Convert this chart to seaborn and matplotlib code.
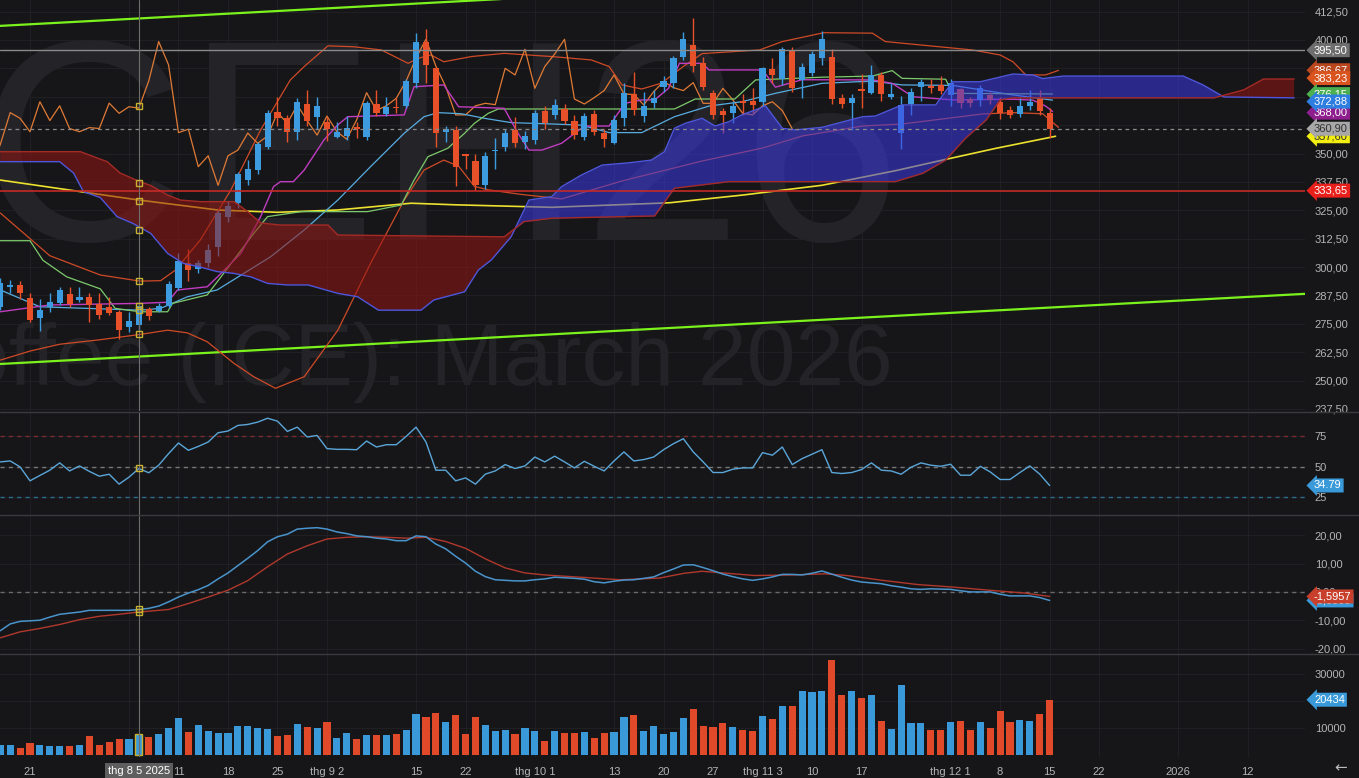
import numpy as np
import matplotlib
matplotlib.use("Agg")
import matplotlib.pyplot as plt
import matplotlib.transforms as mtransforms
from matplotlib.lines import Line2D
import seaborn as sns

# ---------------- data (bar index 0 = 21 Jul 2025) ----------------
first_index = -3
opens = [282.5, 291.5, 292, 286.5, 277.5, 282.5, 284, 288, 285.5, 287,
         283.7, 282.5, 280.3, 273.5, 274.4, 281.4, 280.8, 282.8, 290.6, 301.6,
         299, 301.8, 309, 322, 328, 338.3, 342.7, 353, 368.4, 365.6,
         359.6, 371.8, 366, 364, 357.4, 357.7, 361.5, 357.3, 371.7, 367.4,
         370.5, 371, 381, 399, 387.5, 359.6, 360.4, 349.5, 346.7, 336,
         351, 353, 360.4, 355.2, 356, 368.7, 367, 369.5, 364.5, 357.4,
         367.4, 359.2, 354.8, 365.5, 376, 366.5, 372.4, 379.2, 381, 392.7,
         397.8, 390, 376.5, 368.5, 367.8, 373.3, 373.3, 372.8, 387, 382.7,
         395.6, 382.4, 385.3, 392, 392.4, 374.6, 372.4, 378, 376.5, 384.6,
         375, 359.2, 371.8, 379.4, 379.5, 380.2, 375.8, 378.3, 373.9, 373.6,
         375.8, 372.8, 369.2, 367.4, 370.9, 373.9, 367.7]
closes = [293, 292, 288.5, 276.5, 281, 284.7, 290, 283.7, 287, 283.3,
          279, 279.7, 272.2, 276.4, 282.8, 278.5, 282.8, 292.5, 302.8, 298.7,
          301.6, 307.5, 324, 327, 341, 343, 354, 368, 365.5, 359.6,
          372.8, 364.5, 371, 361, 359.6, 361.4, 361, 372.2, 367.7, 370.6,
          370, 382, 399.3, 389, 359.2, 360.7, 344.2, 349, 336, 349,
          351.5, 359, 354.5, 357.7, 368, 363.3, 371.4, 364.5, 358.1, 366.5,
          359.6, 356.3, 364.8, 376.8, 369, 371, 374.3, 382, 392, 400.3,
          388.5, 379.4, 367, 367, 371, 372.1, 371.5, 387.5, 384.6, 395.9,
          378.7, 388.3, 393.8, 400.3, 374, 371.8, 374.6, 377.7, 384.6, 376.2,
          376, 371.4, 377.2, 381.7, 379, 377.7, 381.2, 372.1, 372.1, 378.7,
          373.6, 367.7, 367, 371, 372.8, 368.9, 360.9]
highs = [295, 294.3, 294, 288.7, 286, 288.5, 291, 291, 291.2, 288.5,
         288.5, 287, 281, 280, 284, 282.5, 284, 294, 306, 308,
         303, 310, 325, 329, 342, 347, 355, 369, 375, 367,
         374.5, 378, 375, 366, 364, 366.5, 364, 373, 378, 375,
         374.5, 383, 403, 405, 388, 362, 362, 350, 350, 350.5,
         357, 361, 366, 360, 369, 371, 374, 372, 367, 368,
         369, 361, 367, 381, 386, 377, 378, 384, 393, 403.6,
         409.5, 392.5, 378, 370, 373, 376, 379, 388, 392, 397,
         397, 390, 395, 404, 396, 376, 376, 385, 389, 386,
         381, 375.5, 379, 383, 383, 384, 383, 379, 375, 380,
         377, 375, 371, 375, 378, 378, 370]
lows = [281, 288.5, 286, 275.6, 272, 280, 283.5, 282.5, 284.7, 276,
        277, 279, 268.5, 271.5, 272, 276.5, 280, 282, 290, 294,
        297.5, 300, 305, 320, 326, 336, 341, 352, 362, 355,
        356, 362, 361, 355.5, 357, 356, 357, 356, 366.5, 366.5,
        368, 370, 379, 381, 353, 355, 335.6, 343, 334, 334.5,
        343, 351, 353, 352, 354, 361, 365, 363, 356.5, 356,
        358, 353, 354, 362, 367, 364, 370, 377, 379, 391,
        386, 378, 365, 358.9, 363.5, 367, 368, 371, 381, 380,
        377, 374.5, 384, 389, 372, 370, 360.5, 370, 376, 373,
        374, 352, 367, 373, 376.5, 376, 371, 370, 370.5, 371,
        372, 365, 365.5, 366, 369, 367, 357]
volumes = [3800, 3900, 2850, 4650, 4000, 3400, 3400, 3400, 4000, 7100,
           4000, 4800, 5900, 5900, 7800, 6600, 7800, 10100, 13750, 8550,
           11100, 9050, 8400, 8100, 10700, 10700, 10100, 9650, 7100, 7450,
           11450, 10500, 9900, 12300, 6250, 8400, 5900, 7450, 7450, 7450,
           7800, 9500, 15350, 14150, 15700, 12100, 14750, 7700, 14150, 11100,
           8950, 9500, 7800, 10100, 8950, 5250, 8950, 8300, 8100, 8700,
           6250, 8300, 8700, 14150, 15000, 8950, 10850, 7800, 8700, 13900,
           17150, 10850, 10500, 11950, 10500, 9500, 8950, 14500, 13400, 18000,
           18000, 23800, 23200, 23450, 35100, 22000, 23800, 21000, 22000, 12550,
           9650, 25650, 11800, 11800, 9300, 9300, 12100, 12550, 9500, 12100,
           9900, 16300, 12300, 13050, 12800, 15250, 20434]
rsi = [54.1, 54.9, 50, 38.6, 43, 47.3, 53.3, 46.7, 50.8, 46.3,
       42.4, 44.0, 35.9, 41.6, 48.7, 45.2, 51.4, 60.9, 69.6, 63.6,
       66.8, 70.4, 78, 79.4, 84, 84.8, 86.7, 89.9, 87.5, 79.1,
       82.6, 74.5, 75.8, 65, 64.4, 64.4, 64.1, 71.2, 66.3, 68.2,
       68.2, 75, 82.6, 70.4, 47.3, 47.3, 38.6, 41, 35.9, 44.1,
       46.7, 51.9, 48.7, 50.8, 58.1, 54.1, 58.8, 54.1, 49.2, 54.6,
       50.5, 46.7, 54.9, 62.3, 54.9, 56, 58.1, 64.1, 69, 73.1,
       62.3, 54.1, 45.4, 45.4, 48.1, 49.2, 49.2, 61.7, 59.6, 66.3,
       51.9, 56.8, 60.4, 64.1, 45.4, 44.6, 45.4, 47.8, 53.3, 47.3,
       46.7, 44.0, 49.7, 53.3, 51.4, 50.5, 52.2, 43.2, 43.2, 50.5,
       45.9, 39.7, 39.7, 45.4, 50.8, 44.1, 34.79]
macd = [-13.7, -11.3, -10.4, -10.2, -10, -8.9, -7.9, -7.5, -7.1, -6.5,
        -6.5, -6.5, -6.5, -6.5, -6.2, -5.8, -5, -3.5, -1.8, -0.4,
        0.8, 2.3, 4.6, 6.7, 9.3, 11.9, 14.6, 17.7, 19.5, 20.4,
        22.2, 22.5, 22.7, 22.2, 21.2, 20.6, 19.8, 19.5, 19, 18.7,
        18.1, 18.1, 19.8, 19.5, 16.9, 15.2, 12.6, 10.2, 7.3, 5.4,
        4.3, 4.1, 3.9, 3.9, 4.3, 4.6, 5.2, 5.0, 4.8, 4.5,
        3.6, 3.2, 3.8, 4.2, 4.3, 4.8, 5.3, 6.8, 8.1, 9.5,
        9.6, 8.6, 7.5, 6.3, 5.4, 4.6, 4.1, 4.6, 5.3, 6.2,
        6.2, 6.0, 6.6, 7.4, 6.3, 5.2, 4.2, 3.5, 3.2, 2.9,
        2.2, 1.7, 1.1, 0.9, 1.1, 1.0, 0.9, 0.4, 0.0, 0.0,
        0.0, -0.8, -1.4, -1.4, -1.4, -2.0, -3.0]
signal_x = [-3, -1, 1, 3, 5, 7, 9, 11, 13, 14, 16, 18, 20, 22, 24, 26, 28, 30, 32, 34,
            36, 38, 40, 42, 44, 46, 48, 50, 52, 55.6, 59.6, 63.6, 66.1, 67.9, 70.4,
            73.2, 76.9, 80.3, 82.5, 86.1, 89.7, 93.3, 96.9, 100.5, 103]
signal_v = [-16.2, -14.1, -12.9, -11.5, -9.8, -8.6, -7.9, -7.1, -6.5, -6.2, -4.1, -1.8,
            0.6, 4, 8.9, 13.4, 16.3, 18.7, 19.3, 19.5, 19.3, 19.0, 19.3, 17.8, 15.4,
            11.7, 8.5, 6.7, 6.0, 5.2, 4.3, 4.9, 6.6, 7.3, 6.6, 5.8, 6.0, 6.4, 5.8,
            4.1, 2.6, 1.7, 0.6, -0.4, -1.6]

# indicator lines: (bar index, price)
kijun_x = [-3, 0, 1.3, 3.7, 7.1, 8.6, 11.1, 13.9, 14.4, 17.9, 19.3, 22.6, 24, 27.4, 34.1,
           37.5, 38.8, 40.2, 42.2, 43.9, 44.9, 46.3, 47.3, 65.1, 67.2, 71.2, 73.3, 80,
           85.1, 87.1, 88.1, 92.5, 93.2, 103.3]
kijun_y = [311.6, 311.6, 303, 295.7, 290.4, 281.8, 280.3, 280.3, 284, 287.7, 295.7, 314.8,
           322.2, 324.4, 324.4, 327.3, 338.3, 348.6, 352.3, 358.9, 363.3, 367.7, 369.6,
           369.6, 374, 374, 382.4, 383.6, 384.1, 386.5, 383.1, 382.7, 376.5, 376.2]
tenkan_x = [-3, 2, 11.1, 13.9, 14.9, 17.9, 19.3, 21.3, 23.3, 24.6, 25.3, 26.6, 27.7, 29.7,
            31.1, 32.1, 37.8, 38.8, 41.8, 43.3, 47.9, 49.3, 50.4, 51.7, 53.7, 56, 58.5,
            60.1, 61.8, 63.1, 64.5, 65.6, 67.9, 68.6, 74, 75.3, 78, 85.1, 87.1, 89.2,
            93.2, 99.3, 101.3, 102.6, 103.3]
tenkan_y = [280.3, 283.3, 284, 284.5, 289.9, 291.3, 297.2, 306, 322.2, 335.4, 337.6, 337.6,
            342.7, 356, 362.6, 366.2, 367, 379.4, 380.2, 370.6, 369.9, 358.9, 351.5, 351.5,
            354.5, 362.1, 362.1, 372.1, 373.6, 373.6, 378.7, 389.7, 389.7, 386.8, 386.8,
            379.2, 382.5, 382.4, 380.9, 375, 373.6, 373.9, 373.5, 370.9, 368.5]
mid_x = [-3, 1, 11.1, 13.2, 15.9, 18.9, 24.3, 27.7, 31.1, 34.4, 37.8, 39.8, 41.2, 43.6,
         45.9, 48.6, 52.7, 55.7, 58.5, 61.8, 65.1, 68.6, 71.9, 75.3, 80, 85.1, 88.1, 93.2,
         99.3, 103.3]
mid_y = [289.9, 282.5, 281, 281.8, 286.9, 289.9, 304.5, 316.3, 329.5, 344.2, 358.9, 366.2,
         368, 367.5, 365.5, 363.6, 363, 362.5, 359.2, 359.2, 366.2, 370.9, 372.8, 376.5,
         380.9, 381.9, 380.2, 380, 375.8, 373.5]
bb_up_x = [-3, 2, 7.1, 11.1, 13.2, 14.7, 17.2, 20.3, 23.3, 26.3, 27.7, 30.1, 32.7, 35.5,
           38.2, 39.2, 40.5, 41.8, 44.6, 47.9, 52.7, 56.7, 58.5, 59.8, 61.8, 63.8, 65.9,
           67.9, 73.7, 76, 80.2, 85.1, 86.4, 95.2, 98, 99.3, 100.6, 102.6, 103.9]
bb_up_y = [323.8, 305, 296.5, 293.8, 294, 298.7, 311.9, 334, 360.4, 382.4, 388.3, 397.4,
           397, 395.6, 389.7, 391.9, 393.4, 390.4, 392.7, 394.1, 392.7, 391.2, 388.3,
           380.2, 378.4, 381, 388, 394, 395.6, 399.3, 403.2, 403, 399.3, 395.6, 393.4,
           390.4, 384.6, 384.6, 386.6]
bb_lo_x = [-3, 0, 3, 7.1, 11.1, 13.9, 15.9, 17.9, 20.6, 22.6, 24.8, 27.7, 31.1, 34.4, 37.8,
           39.8, 41.8, 43.3, 44.9, 46.3, 49.6, 53.7, 59.8, 67.9, 74, 78, 84.1, 88.1, 96.2,
           99.3, 102.3, 103.9]
bb_lo_y = [259, 263, 266, 268, 270.3, 272.2, 271, 267.1, 257.6, 251.7, 246.6, 251.7, 272.2,
           301.6, 329.5, 342.7, 347.1, 344.4, 335.5, 334, 332, 330, 337.9, 346.7, 352.4,
           357.7, 362.1, 363, 367.4, 368, 367.5, 361.5]
ma_x = [-3, 11, 19, 25, 31, 38.5, 43, 52.7, 64.6, 72, 80, 87.4, 92.5, 97.6, 102.6, 103.6]
ma_y = [338.3, 329.5, 325.1, 324.1, 325.1, 328.1, 327.4, 326.3, 328.3, 331.7, 336, 342.4,
        347.4, 352.3, 356.7, 357.6]
span_a_x = [-3, 3, 4.4, 5.4, 7.1, 8.8, 10.4, 12.2, 13.9, 15.5, 17.2, 18.9, 20.6, 22.3, 24,
            26, 28.1, 31.1, 33.1, 35.2, 39.5, 40.8, 43.9, 45.3, 46.6, 48.6, 50.4, 52.7,
            53.7, 55.7, 57.8, 60.5, 62.8, 64.1, 65.1, 66.2, 67.9, 69.2, 70.6, 71.9, 73.7,
            74.3, 76, 77.3, 80, 84.1, 85.4, 88.1, 91.5, 93.2, 96, 99.3, 101.3, 102.3,
            104.4, 116.5, 118.5, 120.6, 127.7]
span_a_y = [346.4, 346.4, 341.4, 333.2, 330.6, 322.2, 319.2, 314.8, 306, 301.6, 300, 298,
            297.2, 295.7, 292.8, 292.1, 292.1, 288.4, 286.9, 281, 281, 285.5, 289.1, 298.7,
            303.1, 313.3, 329.5, 331, 335.4, 340.5, 344.9, 345.9, 347.1, 350.8, 361.1,
            363.3, 365.5, 362.1, 364, 367, 369.9, 371, 361.1, 360.4, 361.5, 366.2, 366.5,
            371.4, 371.4, 381.6, 381.6, 385, 384.6, 383, 384.1, 384.1, 380.2, 374.9, 374.5]
span_b_x = [-3, 5.1, 6.8, 7.8, 9.1, 11.1, 12.2, 13.9, 15.2, 17.2, 20.6, 22, 23.3, 25.3, 30.1,
            31.1, 47.9, 49.9, 52.7, 63.1, 65.1, 70.6, 87.4, 90.2, 92.5, 94.5, 96.6, 98,
            99.3, 119.6, 122.6, 124.6, 127.7]
span_b_y = [350.8, 350.8, 348, 346.4, 341.4, 337.6, 335.9, 331.7, 329.5, 328.8, 328.8, 324.4,
            319.4, 318.5, 318.5, 314.1, 313.3, 320, 321.5, 322.5, 334.7, 337.6, 337.6, 341.3,
            347.1, 356.7, 364.8, 373.6, 374.5, 374.5, 378, 382.8, 382.8]
chikou_shift = 26
trend_x = [-3.03, 128.8]
trend_upper = [406.2, 437.0]
trend_lower = [257.3, 288.2]
level_gray = 395.5
level_red = 333.65
last_price = 360.9
cross_index = 11
cross_prices = [370.9, 336.9, 329.2, 316.3, 293.9, 282.8, 281.0, 270.3]

price_ticks = [237.5, 250, 262.5, 275, 287.5, 300, 312.5, 325, 337.5, 350, 362.5,
               375, 387.5, 400, 412.5]
rsi_ticks = [25, 50, 75]
macd_ticks = [-20, -10, 0, 10, 20]
vol_ticks = [10000, 20000, 30000]
grid_idx = [0, 10, 15, 20, 25, 30, 39, 44, 51, 59, 64, 69, 74, 79, 84, 93, 98, 103, 108, 116, 123]
tick_idx = [0, 15, 20, 25, 30, 39, 44, 51, 59, 64, 69, 74, 79, 84, 93, 98, 103, 108, 116, 123]
tick_lbl = ["21", "11", "18", "25", "thg 9 2", "15", "22", "thg 10 1", "13", "20",
            "27", "thg 11 3", "10", "17", "thg 12 1", "8", "15", "22", "2026", "12"]

# ---------------- style ----------------
BG = "#161619"
TXT = "#b4b4b4"
UP = "#3d9be0"
DN = "#e8502a"
sns.set_theme(style="dark", rc={
    "figure.facecolor": BG, "axes.facecolor": BG, "axes.edgecolor": BG,
    "grid.color": "#232328", "text.color": TXT,
    "xtick.color": TXT, "ytick.color": TXT})
plt.rcParams["font.family"] = ["Liberation Sans", "DejaVu Sans"]

W, H = 1359, 778
PLOT_W = 1305
fig = plt.figure(figsize=(W / 100, H / 100), dpi=100)
fig.patch.set_facecolor(BG)


def panel(top, bottom):
    ax = fig.add_axes([0, 1 - bottom / H, PLOT_W / W, (bottom - top) / H])
    ax.set_facecolor(BG)
    for s in ax.spines.values():
        s.set_visible(False)
    ax.set_xlim(-3.03, 128.8)
    ax.yaxis.tick_right()
    ax.tick_params(axis="both", length=0, labelsize=8, colors=TXT)
    ax.tick_params(axis="y", pad=7)
    ax.set_xticks(grid_idx)
    ax.grid(True, color="#222227", lw=0.6)
    ax.set_axisbelow(True)
    return ax


ax_p = panel(0, 411)
ax_r = panel(412, 514.5)
ax_m = panel(515.5, 653.5)
ax_v = panel(654.5, 757)
for a in (ax_p, ax_r, ax_m):
    a.tick_params(axis="x", labelbottom=False)

idx = np.arange(first_index, first_index + len(opens))
o = np.array(opens); c = np.array(closes); hi = np.array(highs); lo = np.array(lows)
cols = np.where(c >= o, UP, DN)

# ---------------- price panel ----------------
ax_p.set_ylim(236.6, 417.6)
ax_p.set_yticks(price_ticks)
ax_p.set_yticklabels([f"{v:.2f}".replace(".", ",") for v in price_ticks])

ax_p.text(88.1, 311.9, "KCEH26", fontsize=206, color="#242428", ha="right",
          va="baseline", zorder=0.5, clip_on=True)
ax_p.text(87.2, 248.0, "Coffee (ICE): March 2026", fontsize=63, color="#242428",
          ha="right", va="baseline", zorder=0.5, clip_on=True)

ax_p.plot(trend_x, trend_upper, color="#7cf21c", lw=1.6, zorder=2)
ax_p.plot(trend_x, trend_lower, color="#7cf21c", lw=1.6, zorder=2)

def line(ax, x, y, color, lw=0.9, z=3):
    sns.lineplot(x=x, y=y, ax=ax, color=color, lw=lw, zorder=z, estimator=None, sort=False)

line(ax_p, ma_x, ma_y, "#ece12e", 1.2)
line(ax_p, bb_up_x, bb_up_y, "#cf4a26", 0.9)
line(ax_p, bb_lo_x, bb_lo_y, "#cf4a26", 0.9)
line(ax_p, list(idx - chikou_shift), closes, "#e07a35", 0.9)
line(ax_p, mid_x, mid_y, "#58ace0", 0.9)
line(ax_p, kijun_x, kijun_y, "#7dca6c", 0.9)
line(ax_p, tenkan_x, tenkan_y, "#c03cc0", 1.0)

ax_p.vlines(idx, lo, hi, colors=cols, lw=1, zorder=4)
body = c - o
body = np.where(np.abs(body) < 0.7, 0.7, body)
ax_p.bar(idx, body, bottom=np.where(np.abs(c - o) < 0.7, (o + c) / 2 - 0.35, o),
         width=0.62, color=cols, zorder=5, linewidth=0)

xx = np.linspace(span_a_x[0], span_a_x[-1], 3000)
sa = np.interp(xx, span_a_x, span_a_y)
sb = np.interp(xx, span_b_x, span_b_y)
ax_p.fill_between(xx, sa, sb, where=sb >= sa, interpolate=True, color="#951512",
                  alpha=0.55, lw=0, zorder=6)
ax_p.fill_between(xx, sa, sb, where=sa >= sb, interpolate=True, color="#3c3ae6",
                  alpha=0.55, lw=0, zorder=6)
ax_p.plot(span_a_x, span_a_y, color="#4d56dc", lw=1.0, zorder=6.5)
ax_p.plot(span_b_x, span_b_y, color="#a42a26", lw=1.0, zorder=6.5)

ax_p.axhline(level_gray, color="#8a8a8a", lw=1, zorder=7)
ax_p.axhline(level_red, color="#c42a26", lw=1.2, zorder=7)
ax_p.axhline(last_price, color="#8a8a8a", lw=0.9, ls=(0, (3, 3)), zorder=7)

# ---------------- RSI ----------------
ax_r.set_ylim(11.0, 95.0)
ax_r.set_yticks(rsi_ticks)
ax_r.set_yticklabels([str(v) for v in rsi_ticks])
ax_r.axhline(75, color="#7a2c2c", lw=1, ls=(0, (3, 3)))
ax_r.axhline(50, color="#777777", lw=1, ls=(0, (3, 3)))
ax_r.axhline(25, color="#2c6c8c", lw=1, ls=(0, (3, 3)))
line(ax_r, list(idx), rsi, "#5aa6d8", 1.0)

# ---------------- MACD ----------------
ax_m.set_ylim(-21.75, 27.0)
ax_m.set_yticks(macd_ticks)
ax_m.set_yticklabels([f"{v:.2f}".replace(".", ",") for v in macd_ticks])
ax_m.axhline(0, color="#6a6a6a", lw=1, ls=(0, (3, 3)))
line(ax_m, signal_x, signal_v, "#b0382c", 1.0)
line(ax_m, list(idx), macd, "#4a94cc", 1.1)

# ---------------- Volume ----------------
ax_v.set_ylim(-550, 37000)
ax_v.set_yticks(vol_ticks)
ax_v.set_yticklabels([str(v) for v in vol_ticks])
vcols = np.where(c >= o, "#3a9ad9", "#e04a2a")
ax_v.bar(idx, volumes, width=0.72, color=vcols, linewidth=0, zorder=3)
ci = cross_index - first_index
ax_v.bar([cross_index], [volumes[ci]], width=0.72, color="none", edgecolor="#c8b030",
         linewidth=1, zorder=4)
ax_v.set_xticks(tick_idx)
ax_v.set_xticks(grid_idx, minor=True)
ax_v.set_xticklabels(tick_lbl)
ax_v.grid(True, which="minor", axis="x", color="#222227", lw=0.6)
ax_v.tick_params(axis="x", which="both", pad=7, length=0)

for a in (ax_p, ax_r, ax_m, ax_v):
    a.set_xlabel("")
    a.set_ylabel("")
    a.axvline(cross_index, color="#6e6e6e", lw=0.8, zorder=8)

# crosshair markers
ax_p.plot([cross_index] * len(cross_prices), cross_prices, ls="none", marker="s", ms=4.5,
          mfc="none", mec="#c8b030", mew=1, zorder=9)
ax_r.plot([cross_index], [rsi[ci]], ls="none", marker="s", ms=4.5, mfc="none",
          mec="#c8b030", mew=1, zorder=9)
ax_m.plot([cross_index, cross_index], [macd[ci], -7.1], ls="none", marker="s", ms=4.5,
          mfc="none", mec="#c8b030", mew=1, zorder=9)

# ---------------- value tags ----------------
def tag(ax, y, text, fc, tc="white", z=20):
    tr = mtransforms.blended_transform_factory(ax.transAxes, ax.transData)
    tr = tr + mtransforms.ScaledTranslation(0.09, 0, fig.dpi_scale_trans)
    ax.text(1.0, y, text, transform=tr, ha="left", va="center", fontsize=8, color=tc,
            bbox=dict(boxstyle="larrow,pad=0.18", fc=fc, ec="none"), clip_on=False, zorder=z)

tag(ax_p, 395.5, "395,50", "#6e6e6e", z=20)
tag(ax_p, 386.67, "386,67", "#b8471e", z=21)
tag(ax_p, 383.23, "383,23", "#d9541e", z=22)
tag(ax_p, 376.15, "376,15", "#4caf50", z=23)
tag(ax_p, 368.0, "368,00", "#8e1e8e", z=24)
tag(ax_p, 372.88, "372,88", "#2d7ee0", z=25)
tag(ax_p, 357.6, "357,60", "#f2ee10", tc="#333333", z=26)
tag(ax_p, 360.9, "360,90", "#a8a8a8", tc="#333333", z=27)
tag(ax_p, 333.65, "333,65", "#e8201c", z=28)
tag(ax_r, 34.79, "34.79", "#3a9ad9")
tag(ax_m, -3.0, "-3,0000", "#3a9ad9", z=20)
tag(ax_m, -1.5957, "-1,5957", "#c8402c", z=21)
tag(ax_v, 20434, "20434", "#3a9ad9")

# panel separators
for ysep in (411.5, 515, 654):
    fig.add_artist(Line2D([0, 1], [1 - ysep / H, 1 - ysep / H], transform=fig.transFigure,
                          color="#3a3a3e", lw=1))

fig.text(139 / W, 1 - 771 / H, "thg 8 5 2025", ha="center", va="center", fontsize=8,
         color="white", bbox=dict(boxstyle="square,pad=0.25", fc="#5e5e5e", ec="none"))
fig.text(1341 / W, 1 - 768 / H, "\u2190", ha="center", va="center", fontsize=11,
         color="#bbbbbb", family="DejaVu Sans")

fig.savefig("out.png", dpi=100, facecolor=BG)
